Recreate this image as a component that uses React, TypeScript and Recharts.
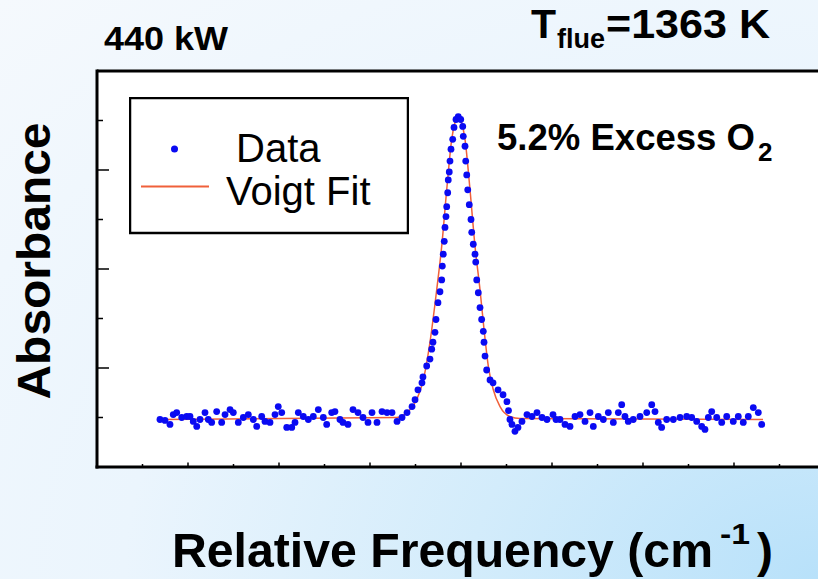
import React from "react"
import { CartesianGrid, ComposedChart, Legend, Line, ReferenceLine, Scatter, XAxis, YAxis } from "recharts"

const DOT = "#0a0af2"
const FIT = "#f0603a"
const FONT = "'Liberation Sans', Arial, Helvetica, sans-serif"

// measured points [relative frequency (cm-1), absorbance]
const baselineLeft: [number, number][] = [
  [-0.3308, -0.002], [-0.3253, -0.003], [-0.3198, -0.007], [-0.3162, 0.003], [-0.3124, 0.005],
  [-0.3069, 0.0], [-0.3014, 0.001], [-0.2978, 0.001], [-0.2942, -0.004], [-0.2904, -0.009],
  [-0.2868, -0.002], [-0.2813, 0.005], [-0.2777, -0.002], [-0.274, -0.005], [-0.2685, 0.006],
  [-0.263, -0.005], [-0.2593, 0.003], [-0.2538, 0.008], [-0.2502, 0.005], [-0.2447, -0.005],
  [-0.2392, 0.0], [-0.2337, 0.003], [-0.2282, -0.002], [-0.2245, -0.009], [-0.219, 0.001],
  [-0.2154, -0.004], [-0.2099, -0.005], [-0.2044, 0.003], [-0.2008, 0.011], [-0.197, 0.005],
  [-0.1915, -0.01], [-0.186, -0.01], [-0.1824, -0.005], [-0.1788, 0.005], [-0.1733, 0.001],
  [-0.1678, -0.002], [-0.1623, 0.001], [-0.1568, 0.008], [-0.1513, 0.0], [-0.1476, -0.007],
  [-0.1421, 0.005], [-0.1385, 0.006], [-0.133, -0.002], [-0.1297, -0.005], [-0.1242, -0.007],
  [-0.1187, 0.008], [-0.1132, 0.005], [-0.1077, 0.0], [-0.1022, -0.005], [-0.0978, 0.005],
  [-0.0923, -0.005], [-0.0868, 0.006], [-0.0813, 0.005], [-0.0758, 0.005], [-0.0703, -0.004],
]

const peak: [number, number][] = [
  [-0.0648, 0.0], [-0.0593, 0.005], [-0.0538, 0.011], [-0.0505, 0.018], [-0.0473, 0.028],
  [-0.0429, 0.035], [-0.0418, 0.041], [-0.0377, 0.052], [-0.0341, 0.059], [-0.0322, 0.069],
  [-0.0308, 0.076], [-0.0286, 0.086], [-0.0275, 0.099], [-0.0253, 0.116], [-0.0231, 0.127],
  [-0.0212, 0.139], [-0.0205, 0.153], [-0.0195, 0.165], [-0.0184, 0.178], [-0.0176, 0.192],
  [-0.0165, 0.203], [-0.0157, 0.213], [-0.0146, 0.227], [-0.014, 0.24], [-0.0129, 0.248],
  [-0.0121, 0.259], [-0.011, 0.271], [-0.0091, 0.281], [-0.0077, 0.293], [-0.0055, 0.301],
  [-0.003, 0.304], [-0.0003, 0.301], [0.0019, 0.294], [0.0025, 0.284], [0.0044, 0.274],
  [0.0052, 0.259], [0.0063, 0.245], [0.0074, 0.23], [0.0091, 0.215], [0.011, 0.2],
  [0.0118, 0.187], [0.0135, 0.175], [0.0154, 0.165], [0.0162, 0.157], [0.0173, 0.139],
  [0.019, 0.126], [0.0209, 0.111], [0.0227, 0.099], [0.0245, 0.087], [0.0253, 0.076],
  [0.0264, 0.062], [0.0282, 0.048], [0.0319, 0.038], [0.0352, 0.035], [0.0407, 0.028],
  [0.0462, 0.023], [0.0505, 0.016], [0.0522, 0.007], [0.0538, -0.002], [0.056, -0.007],
  [0.0593, -0.014], [0.0626, -0.01], [0.067, -0.004], [0.0725, 0.003], [0.078, 0.001],
  [0.0835, 0.005], [0.089, 0.0], [0.0945, -0.002], [0.1011, 0.003], [0.1044, -0.002],
]

const baselineRight: [number, number][] = [
  [0.1088, -0.002], [0.1143, -0.007], [0.1198, -0.009], [0.1253, 0.001], [0.1308, 0.003],
  [0.1363, -0.004], [0.1418, 0.005], [0.1454, -0.009], [0.1509, 0.001], [0.1564, -0.002],
  [0.1619, 0.005], [0.1674, -0.005], [0.1729, 0.005], [0.1766, 0.013], [0.1802, 0.001],
  [0.1838, -0.004], [0.1893, -0.002], [0.1967, 0.001], [0.2041, 0.005], [0.2096, 0.013],
  [0.2132, 0.006], [0.2168, -0.005], [0.2205, -0.01], [0.226, -0.002], [0.2333, -0.002],
  [0.2407, 0.0], [0.248, 0.001], [0.2535, 0.0], [0.259, -0.004], [0.2645, -0.009],
  [0.2681, -0.012], [0.2718, 0.0], [0.2755, 0.006], [0.281, 0.0], [0.2865, -0.005],
  [0.292, 0.001], [0.2992, -0.004], [0.3047, 0.001], [0.3102, -0.005], [0.3157, 0.001],
  [0.3212, 0.01], [0.3267, 0.005], [0.3304, -0.007],
]

const voigtFit: [number, number][] = [
  [-0.3308, -0.002], [-0.0707, 0.0], [-0.0637, 0.002], [-0.056, 0.008], [-0.0487, 0.018],
  [-0.0414, 0.038], [-0.0341, 0.076], [-0.0267, 0.129], [-0.0212, 0.173], [-0.0157, 0.23],
  [-0.0102, 0.281], [-0.0069, 0.297], [-0.003, 0.305], [0.0009, 0.297], [0.0044, 0.281],
  [0.0099, 0.23], [0.0154, 0.173], [0.0209, 0.129], [0.0253, 0.089], [0.03, 0.052],
  [0.0355, 0.028], [0.0429, 0.011], [0.0538, 0.001], [0.0648, -0.001], [0.3319, -0.002],
]

const xTicks = [-0.4, -0.35, -0.3, -0.25, -0.2, -0.15, -0.1, -0.05, 0, 0.05, 0.1, 0.15, 0.2, 0.25, 0.3, 0.35, 0.4]
const yTicks = [0, 0.05, 0.1, 0.15, 0.2, 0.25, 0.3]
const seriesNames = ["Data", "Voigt Fit"]

const points = [...baselineLeft, ...peak, ...baselineRight].map(([x, y]) => ({ x, y }))
const fitData = voigtFit.map(([x, y]) => ({ x, y }))

function XTick({ x, y, payload }: any) {
  const v = payload.value * 10
  const major = Math.abs(Math.round(v) - v) < 1e-6
  return <line x1={x} x2={x} y1={y} y2={y - (major ? 4.5 : 3)} stroke="#000" strokeWidth={1.5} />
}

function YTick({ x, y, index }: any) {
  const major = index % 2 === 1
  return <line x1={x} x2={x + (major ? 12 : 6)} y1={y} y2={y} stroke="#000" strokeWidth={1.5} />
}

function Dot({ cx, cy }: any) {
  return <circle cx={cx} cy={cy} r={3.4} fill={DOT} />
}

function LegendBox() {
  return (
    <svg width={280} height={138} style={{ display: "block", fontFamily: FONT }}>
      <rect x={1} y={1} width={278} height={135} fill="#fff" stroke="#000" strokeWidth={2.5} />
      <circle cx={45.5} cy={52} r={3.5} fill={DOT} />
      <text x={107} y={65} fontSize={40} fill="#000">{seriesNames[0]}</text>
      <line x1={12} x2={80} y1={89.5} y2={89.5} stroke={FIT} strokeWidth={2} />
      <text x={97} y={108} fontSize={40} fill="#000">{seriesNames[1]}</text>
    </svg>
  )
}

export default function App() {
  return (
    <div
      style={{
        position: "absolute",
        left: 0,
        top: 0,
        width: 818,
        height: 579,
        overflow: "hidden",
        background:
          "radial-gradient(ellipse at 100% 100%, #b8e1fa 0%, #d3ecfb 30%, #ebf5fd 60%, #f5f9fd 100%)",
      }}
    >
      <ComposedChart width={840} height={579} margin={{ top: 71, right: 15, bottom: 82, left: 0 }}>
        <CartesianGrid horizontal={false} vertical={false} fill="#fff" />
        <XAxis
          type="number"
          dataKey="x"
          domain={[-0.4, 0.4]}
          ticks={xTicks}
          interval={0}
          height={30}
          tickSize={0}
          tickMargin={0}
          tickLine={false}
          axisLine={{ stroke: "#000", strokeWidth: 3, strokeLinecap: "square" }}
          tick={<XTick />}
          allowDataOverflow
        />
        <YAxis
          type="number"
          dataKey="y"
          domain={[-0.05, 0.35]}
          ticks={yTicks}
          interval={0}
          width={97}
          tickSize={0}
          tickMargin={0}
          tickLine={false}
          axisLine={{ stroke: "#000", strokeWidth: 3, strokeLinecap: "square" }}
          tick={<YTick />}
          allowDataOverflow
        />
        <ReferenceLine y={0.35} stroke="#000" strokeWidth={3} />
        <Scatter name={seriesNames[0]} data={points} dataKey="y" fill={DOT} shape={<Dot />} isAnimationActive={false} />
        <Line
          name={seriesNames[1]}
          data={fitData}
          dataKey="y"
          type="monotone"
          stroke={FIT}
          strokeWidth={1.5}
          dot={false}
          activeDot={false}
          isAnimationActive={false}
        />
        <Legend
          layout="vertical"
          verticalAlign="middle"
          align="center"
          content={<LegendBox />}
          wrapperStyle={{ left: 129, top: 97, width: 280, height: 138 }}
        />
      </ComposedChart>
      <svg
        width={818}
        height={579}
        style={{ position: "absolute", left: 0, top: 0, pointerEvents: "none", fontFamily: FONT }}
      >
        <g fontWeight="bold" fill="#000">
          <text x={104} y={50} fontSize={34} textLength={124} lengthAdjust="spacingAndGlyphs">440 kW</text>
          <text x={531} y={38} fontSize={41}>T</text>
          <text x={557} y={48} fontSize={27} textLength={48} lengthAdjust="spacingAndGlyphs">flue</text>
          <text x={606} y={38} fontSize={41} textLength={164} lengthAdjust="spacingAndGlyphs">=1363 K</text>
          <text x={497} y={150} fontSize={36} textLength={258} lengthAdjust="spacingAndGlyphs">5.2% Excess O</text>
          <text x={758} y={161} fontSize={26}>2</text>
          <text
            transform="translate(50,261) rotate(-90)"
            textAnchor="middle"
            fontSize={47}
            textLength={277}
            lengthAdjust="spacingAndGlyphs"
          >
            Absorbance
          </text>
          <text x={172} y={567} fontSize={48} textLength={541} lengthAdjust="spacingAndGlyphs">Relative Frequency (cm</text>
          <text x={720} y={544} fontSize={30} textLength={30} lengthAdjust="spacingAndGlyphs">-1</text>
          <text x={757} y={567} fontSize={48}>)</text>
        </g>
      </svg>
    </div>
  )
}
